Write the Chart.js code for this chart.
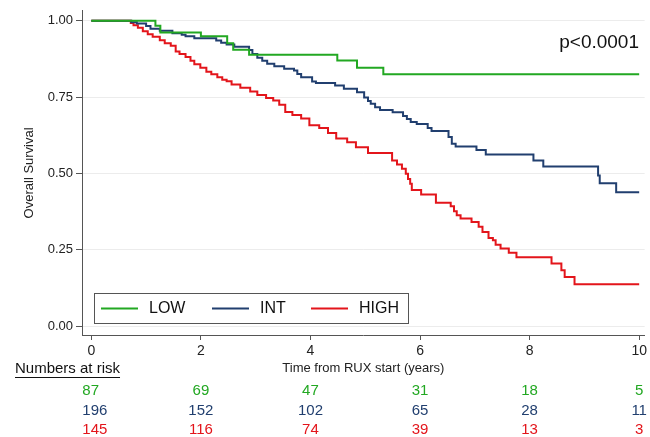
<!DOCTYPE html>
<html>
<head>
<meta charset="utf-8">
<script src="https://cdn.jsdelivr.net/npm/chart.js@4.4.1/dist/chart.umd.min.js"></script>
<style>
  html, body { margin: 0; padding: 0; background: #fff; }
  #wrap { width: 650px; height: 437px; }
</style>
</head>
<body>
<div id="wrap"><canvas id="kmChart"></canvas></div>
<script>
// Kaplan-Meier steps: time (years) of each drop and survival after it
const lowTime = [0, 1.17, 1.26, 2.00, 2.48, 2.59, 2.88, 4.49, 4.85, 5.33, 10];
const lowSurv = [1, 0.984, 0.962, 0.949, 0.926, 0.905, 0.889, 0.870, 0.846, 0.825, 0.825];

const intTime = [0, 0.73, 0.83, 1.00, 1.08, 1.25, 1.48, 1.65, 1.72, 1.88,
  2.28, 2.37, 2.47, 2.61, 2.88, 2.94, 3.03, 3.12, 3.21, 3.34,
  3.52, 3.70, 3.76, 3.83, 4.03, 4.10, 4.45, 4.61, 4.85, 4.98,
  5.05, 5.10, 5.18, 5.27, 5.50, 5.69, 5.76, 5.83, 5.94, 6.14,
  6.21, 6.52, 6.58, 6.65, 7.03, 7.20, 8.07, 8.25, 9.25, 9.28,
  9.58, 10];
const intSurv = [1, 0.995, 0.991, 0.983, 0.974, 0.967, 0.959, 0.954, 0.949, 0.943,
  0.935, 0.928, 0.922, 0.915, 0.904, 0.891, 0.879, 0.869, 0.859, 0.851,
  0.843, 0.837, 0.826, 0.815, 0.801, 0.796, 0.788, 0.777, 0.766, 0.749,
  0.737, 0.728, 0.717, 0.708, 0.700, 0.688, 0.678, 0.668, 0.662, 0.649,
  0.639, 0.619, 0.597, 0.588, 0.577, 0.562, 0.542, 0.523, 0.493, 0.468,
  0.438, 0.438];

const highTime = [0, 0.72, 0.77, 0.85, 0.94, 1.03, 1.12, 1.25, 1.34, 1.45,
  1.54, 1.61, 1.72, 1.81, 1.88, 1.99, 2.10, 2.19, 2.30, 2.39,
  2.47, 2.56, 2.72, 2.90, 3.03, 3.19, 3.32, 3.43, 3.54, 3.67,
  3.83, 3.98, 4.16, 4.32, 4.47, 4.67, 4.83, 5.05, 5.49, 5.58,
  5.67, 5.74, 5.78, 5.82, 5.85, 6.02, 6.29, 6.56, 6.62, 6.67,
  6.74, 6.94, 7.07, 7.14, 7.25, 7.33, 7.38, 7.47, 7.62, 7.76,
  8.40, 8.58, 8.64, 8.82, 10];
const highSurv = [1, 0.993, 0.985, 0.977, 0.966, 0.956, 0.948, 0.936, 0.926, 0.918,
  0.899, 0.891, 0.881, 0.869, 0.858, 0.846, 0.833, 0.825, 0.815, 0.807,
  0.802, 0.791, 0.781, 0.768, 0.757, 0.747, 0.739, 0.725, 0.701, 0.691,
  0.680, 0.658, 0.649, 0.632, 0.614, 0.602, 0.586, 0.567, 0.542, 0.529,
  0.515, 0.499, 0.482, 0.466, 0.446, 0.431, 0.404, 0.392, 0.376, 0.363,
  0.352, 0.341, 0.325, 0.308, 0.288, 0.281, 0.266, 0.254, 0.240, 0.225,
  0.205, 0.183, 0.161, 0.137, 0.137];

const groupNames = ['LOW', 'INT', 'HIGH'];
const groupColors = ['#22a822', '#213f6f', '#e3151b'];

// numbers at risk
const riskTimes = [0, 2, 4, 6, 8, 10];
const lowRisk = [87, 69, 47, 31, 18, 5];
const intRisk = [196, 152, 102, 65, 28, 11];
const highRisk = [145, 116, 74, 39, 13, 3];

const xTicks = [0, 2, 4, 6, 8, 10];
const yTicks = [0, 0.25, 0.5, 0.75, 1];

Chart.defaults.font.family = "'Liberation Sans', Arial, sans-serif";

function toPoints(t, s) {
    return t.map((v, i) => ({ x: v, y: s[i] }));
}

// legend box, p-value and the risk table
const extrasPlugin = {
    id: 'kmExtras',
    afterDraw(chart) {
        const { ctx, scales: { x } } = chart;
        ctx.save();

        // legend box inside the plot
        ctx.fillStyle = '#fff';
        ctx.fillRect(94.5, 293.5, 314, 30);
        ctx.strokeStyle = '#555';
        ctx.lineWidth = 1;
        ctx.strokeRect(94.5, 293.5, 314, 30);
        const lineX = [101, 212, 311];
        ctx.font = '16px "Liberation Sans", Arial, sans-serif';
        ctx.textBaseline = 'middle';
        ctx.textAlign = 'left';
        groupNames.forEach((name, i) => {
            ctx.strokeStyle = groupColors[i];
            ctx.lineWidth = 2;
            ctx.beginPath();
            ctx.moveTo(lineX[i], 308.5);
            ctx.lineTo(lineX[i] + 37, 308.5);
            ctx.stroke();
            ctx.fillStyle = '#111';
            ctx.fillText(name, lineX[i] + 48, 309);
        });

        // p-value
        ctx.font = '19px "Liberation Sans", Arial, sans-serif';
        ctx.textAlign = 'right';
        ctx.fillStyle = '#111';
        ctx.fillText('p<0.0001', 639, 43);

        // numbers at risk
        ctx.font = '15px "Liberation Sans", Arial, sans-serif';
        ctx.textAlign = 'left';
        const label = 'Numbers at risk';
        ctx.fillText(label, 15, 369);
        const w = ctx.measureText(label).width;
        ctx.strokeStyle = '#111';
        ctx.lineWidth = 1;
        ctx.beginPath();
        ctx.moveTo(15, 377.5);
        ctx.lineTo(15 + w, 377.5);
        ctx.stroke();

        const rows = [lowRisk, intRisk, highRisk];
        const rowY = [391, 411, 430];
        rows.forEach((row, r) => {
            ctx.fillStyle = groupColors[r];
            row.forEach((n, i) => {
                const px = x.getPixelForValue(riskTimes[i]);
                if (i === 0) {
                    ctx.textAlign = 'left';
                    ctx.fillText(String(n), px - 9, rowY[r]);
                } else {
                    ctx.textAlign = 'center';
                    ctx.fillText(String(n), px, rowY[r]);
                }
            });
        });
        ctx.restore();
    }
};

const ctx = document.getElementById('kmChart');
new Chart(ctx, {
    type: 'line',
    data: {
        datasets: [
            { label: 'LOW', data: toPoints(lowTime, lowSurv), borderColor: groupColors[0] },
            { label: 'INT', data: toPoints(intTime, intSurv), borderColor: groupColors[1] },
            { label: 'HIGH', data: toPoints(highTime, highSurv), borderColor: groupColors[2] }
        ]
    },
    options: {
        responsive: true,
        maintainAspectRatio: false,
        animation: false,
        layout: { padding: { top: 10, right: 4, left: 0, bottom: 0 } },
        elements: {
            point: { radius: 0 },
            line: { borderWidth: 2, stepped: 'before', fill: false }
        },
        plugins: { legend: { display: false }, tooltip: { enabled: false } },
        scales: {
            x: {
                type: 'linear',
                min: -0.17,
                max: 10.1,
                afterBuildTicks: ax => { ax.ticks = xTicks.map(v => ({ value: v })); },
                afterFit: ax => { ax.height = 102; },
                grid: { drawOnChartArea: false, tickLength: 5, color: '#555' },
                border: { color: '#555' },
                ticks: { font: { size: 14 }, color: '#222', padding: 3, maxRotation: 0 },
                title: {
                    display: true,
                    text: 'Time from RUX start (years)',
                    font: { size: 13 },
                    color: '#222',
                    padding: { top: 0, bottom: 61 }
                }
            },
            y: {
                min: -0.0294,
                max: 1.0327,
                afterBuildTicks: ax => { ax.ticks = yTicks.map(v => ({ value: v })); },
                afterFit: ax => { ax.width = 82; },
                grid: { color: '#ececec', tickColor: '#555', tickLength: 6 },
                border: { color: '#555' },
                ticks: { font: { size: 13 }, color: '#222', padding: 3, callback: v => Number(v).toFixed(2) },
                title: {
                    display: true,
                    text: 'Overall Survival',
                    font: { size: 13 },
                    color: '#222',
                    padding: { top: 22, bottom: 0 }
                }
            }
        }
    },
    plugins: [extrasPlugin]
});
</script>
</body>
</html>
